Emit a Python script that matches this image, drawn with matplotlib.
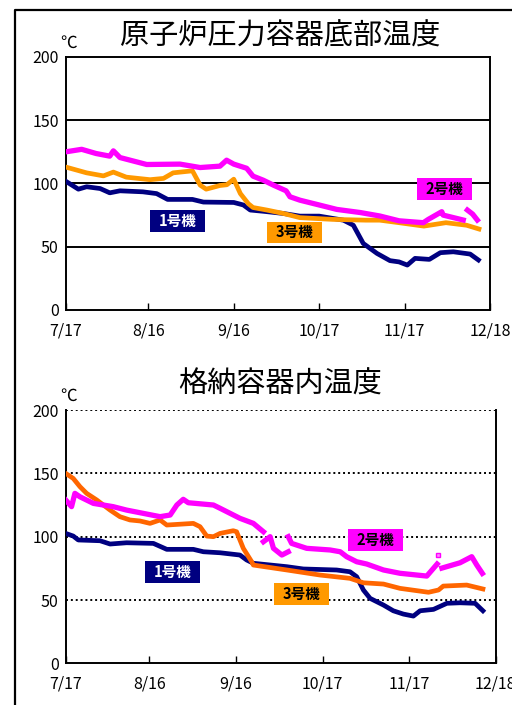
import numpy as np
import matplotlib
matplotlib.use("Agg")
import matplotlib.pyplot as plt
from matplotlib.patches import Rectangle
from matplotlib.lines import Line2D

plt.rcParams['font.family'] = ['Noto Sans CJK JP', 'DejaVu Sans']

nan = np.nan

# days counted from 7/17
tick_days = [0, 30, 61, 92, 123, 154]
tick_labels = ['7/17', '8/16', '9/16', '10/17', '11/17', '12/18']

# --- reactor pressure vessel bottom temperature ---
rpv_u1_day = [0, 4.6, 7.6, 12.5, 16, 19.7, 28, 33, 37, 46, 50, 61, 64.5, 67, 71.8, 79, 85, 92,
              100.8, 104.4, 108, 113, 117.7, 121, 124, 126.8, 132, 136, 140.7, 146.8, 149.8]
rpv_u1_val = [101.8, 95.5, 97.4, 96, 92.6, 94.2, 93.4, 92, 87.4, 87.4, 85.3, 85, 83, 79, 78, 76.3, 74.2, 74.2,
              71, 67, 52.6, 44.7, 39, 38, 35.5, 40.8, 40, 45.3, 46, 44.2, 39.5]

rpv_u2_day = [0, 5.8, 11, 16, 17.3, 19.7, 29.4, 41.5, 48.8, 56, 58.4, 61, 65.7, 68, 71.7, 75.4,
              80, 81.4, 85, 92, 98.4, 107, 114, 121, 129.8, 131.6, 136.5, 137, 144.3, nan, 145.8, 147.7, 149.4]
rpv_u2_val = [125, 127, 123.7, 121.6, 125.8, 120.5, 115, 115.3, 112.6, 113.7, 118.4, 115.3, 112, 105.8, 102.6, 98.7,
              94.2, 89.5, 86.8, 83, 79.5, 77, 74.3, 70.5, 69, 71.6, 77.7, 75, 71.1, nan, 79, 75.8, 71.1]

rpv_u3_day = [0, 7.6, 13.7, 17.3, 22, 30.6, 35.5, 39, 46, 48.8, 51, 56, 58.5, 61, 63.4, 66.3, 68,
              73, 79, 85, 97, 109, 114, 121, 130, 138, 145.5, 150]
rpv_u3_val = [113, 108.4, 106, 109, 105, 103, 104, 108.4, 110, 98.7, 95.5, 98.4, 99, 103.4, 92, 84, 81,
              79, 76.3, 73, 71.6, 71, 71, 69, 66.3, 69, 67, 64]

# --- primary containment vessel temperature ---
pcv_u1_day = [0, 2.7, 4.5, 12.3, 15.9, 21.8, 31.4, 36.2, 45.7, 49.3, 55.3, 62.4, 64.8, 67.2, 79.2, 85.1,
              97, 101.8, 104.2, 106.6, 109, 113.8, 117.3, 120.9, 124.5, 126.9, 131.7, 136.5, 141.2, 146.6, 149.4]
pcv_u1_val = [102.6, 100.5, 97.4, 96.8, 94.2, 95.2, 94.7, 90, 90, 88.1, 87.3, 85.5, 81.6, 79, 76.3, 74.5,
              73.7, 72.3, 68.4, 57.9, 51.3, 46, 41.5, 38.9, 37.3, 41.5, 42.6, 47.4, 47.8, 47.4, 41.5]

pcv_u2_day = [0, 2.1, 3.3, 5.1, 9.9, 17, 21.8, 27.8, 33.8, 37.4, 39.8, 42.1, 43.9, 52.9, 55.3, 62.4, 67.2, 70.8,
              nan, 70.8, 73.2, 74.4, 77.4, 79.7,
              nan, 79.7, 80.9, 86.3, 94.7, 98.3, 100.6, 104.2, 107.8, 113.8, 119.7, 129.3, 133,
              nan, 133.4, nan,
              134.7, 141.2, 145.4, 147.2, 149.2]
pcv_u2_val = [129, 123.7, 134.2, 131.5, 126.3, 123.7, 121, 118.4, 115.8, 117.1, 125, 129.5, 126.8, 125, 122.4, 114.5, 110.5, 103.9,
              nan, 96, 100, 90.8, 85.5, 88.1,
              nan, 100, 94.7, 90.8, 89.5, 88.1, 84.2, 80.2, 78.4, 73.7, 71.1, 68.9, 78.4,
              nan, 85.5, nan,
              75.2, 79.4, 84.2, 77.6, 71]

pcv_u3_day = [0, 2.7, 5.1, 7.5, 11.1, 15.9, 19.4, 23, 26.6, 30.2, 33.8, 36.2, 45.7, 48.1, 50.5, 52.9, 55.3,
              60, 61.2, 63.6, 66.6, 67.2, 79.2, 91.1, 101.8, 106.6, 113.8, 119.7, 129.9, 133.5, 135.2, 143.6, 149.4]
pcv_u3_val = [150, 146, 139.5, 134.2, 129, 121, 115.8, 113.2, 112.4, 110.5, 113.2, 109.2, 110.5, 107.9, 100.5, 100, 102.6,
              104.7, 103.9, 90.8, 80.2, 77.6, 73.7, 69.7, 67.1, 63.6, 62.6, 59.2, 56.1, 57.9, 61, 61.8, 58.7]

unit_names = ['1号機', '2号機', '3号機']

navy = '#000080'
magenta = '#FF00FF'
orange = '#FF9900'
orange_dark = '#FF6600'

fig = plt.figure(figsize=(5.12, 7.05), dpi=100)

# outer frame (left and top edges)
fig.add_artist(Line2D([15 / 512, 15 / 512, 1.0], [0.0, 1 - 10 / 705, 1 - 10 / 705],
                      transform=fig.transFigure, color='black', lw=1.6))


def setup_axes(ax, title, dotted, title_y):
    ax.set_xlim(0, 154)
    ax.set_ylim(0, 200)
    ax.set_yticks([0, 50, 100, 150, 200])
    ax.set_xticks(tick_days)
    ax.set_xticklabels(tick_labels)
    ax.tick_params(axis='x', direction='in', length=5, width=1, labelsize=11.5, pad=9)
    ax.tick_params(axis='y', length=0, labelsize=11.5, pad=5)
    for sp in ax.spines.values():
        sp.set_linewidth(1.4)
    if dotted:
        ax.spines['top'].set_visible(False)
        for v in [50, 100, 150, 200]:
            ax.axhline(v, color='black', lw=1.4, ls=(0, (1, 1.5)), zorder=1)
    else:
        for v in [50, 100, 150]:
            ax.axhline(v, color='black', lw=1.4, zorder=1)
    ax.text(-0.012, 1.022, '℃', transform=ax.transAxes, fontsize=12, ha='left', va='bottom')
    fig.text(0.547, title_y, title, fontsize=21, ha='center', va='center')


def label_box(ax, x0, y0, x1, y1, text, bg, fg):
    ax.add_patch(Rectangle((x0, y0), x1 - x0, y1 - y0, transform=ax.transAxes,
                           facecolor=bg, edgecolor='none', zorder=10, clip_on=False))
    ax.text((x0 + x1) / 2, (y0 + y1) / 2, text, transform=ax.transAxes, color=fg,
            fontsize=10.5, fontweight='bold', ha='center', va='center', zorder=11)


# top chart
ax1 = fig.add_axes([0.1283, 0.5603, 0.8287, 0.3589])
setup_axes(ax1, '原子炉圧力容器底部温度', False, 1 - 36 / 705)
ax1.plot(rpv_u1_day, rpv_u1_val, color=navy, lw=3.4, zorder=3)
ax1.plot(rpv_u3_day, rpv_u3_val, color=orange, lw=3.4, zorder=4)
ax1.plot(rpv_u2_day, rpv_u2_val, color=magenta, lw=3.8, zorder=5)
label_box(ax1, 0.199, 0.308, 0.328, 0.395, unit_names[0], navy, 'white')
label_box(ax1, 0.474, 0.265, 0.604, 0.348, unit_names[2], orange, 'black')
label_box(ax1, 0.828, 0.435, 0.958, 0.522, unit_names[1], magenta, 'black')

# bottom chart
ax2 = fig.add_axes([0.1283, 0.0591, 0.8400, 0.3593])
setup_axes(ax2, '格納容器内温度', True, 1 - 385 / 705)
ax2.plot(pcv_u1_day, pcv_u1_val, color=navy, lw=3.4, zorder=3)
ax2.plot(pcv_u3_day, pcv_u3_val, color=orange_dark, lw=3.4, zorder=4)
ax2.plot(pcv_u2_day, pcv_u2_val, color=magenta, lw=3.8, marker='s', ms=2.5,
         mfc='#FF88FF', mec=magenta, markevery=[i for i, v in enumerate(pcv_u2_val)
                                                  if i > 0 and np.isnan(pcv_u2_val[i - 1])
                                                  and i + 1 < len(pcv_u2_val) and np.isnan(pcv_u2_val[i + 1])],
         zorder=5)
label_box(ax2, 0.184, 0.317, 0.312, 0.404, unit_names[0], navy, 'white')
label_box(ax2, 0.657, 0.443, 0.785, 0.530, unit_names[1], magenta, 'black')
label_box(ax2, 0.484, 0.230, 0.612, 0.317, unit_names[2], orange, 'black')

fig.savefig('out.png', dpi=100)
